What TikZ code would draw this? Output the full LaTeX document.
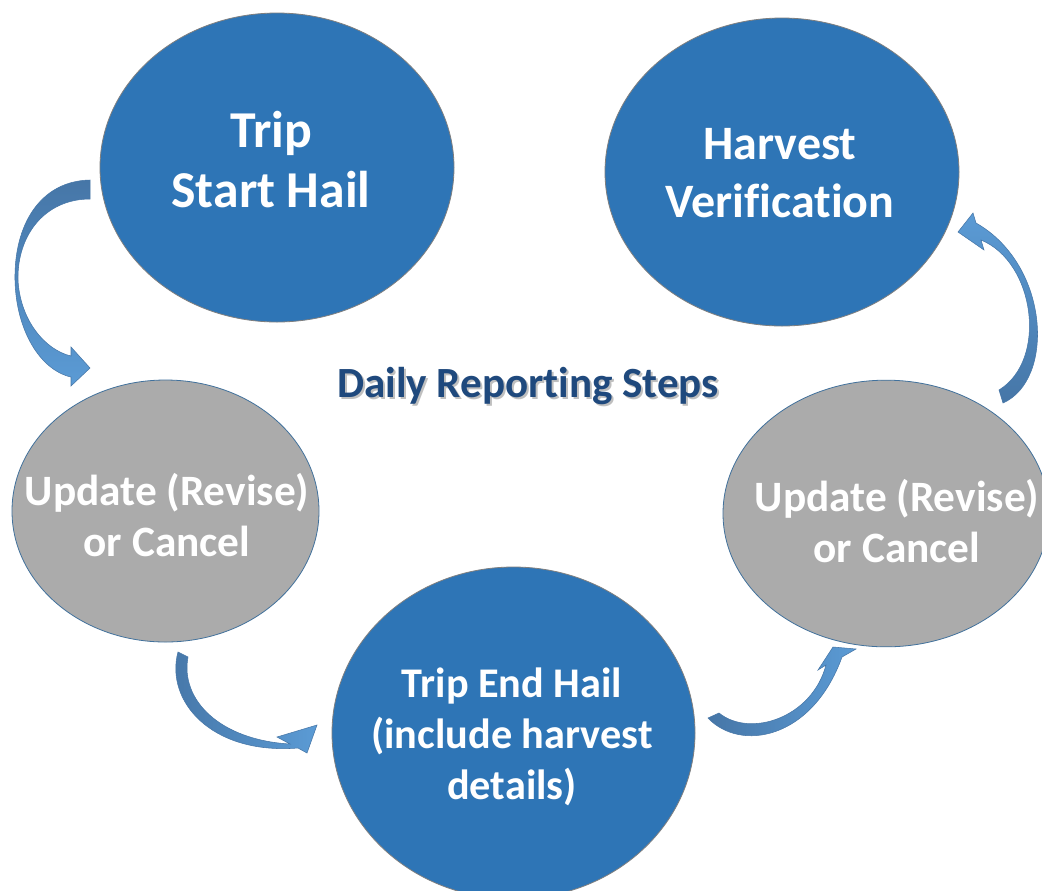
\documentclass[tikz,border=0pt]{standalone}
\usepackage{fontspec}
\setmainfont{Carlito}[Ligatures=NoCommon]
\usetikzlibrary{shapes.geometric}
\definecolor{nodeblue}{HTML}{2E75B6}
\definecolor{nodegray}{HTML}{ABABAB}
\definecolor{grayedge}{HTML}{41719C}
\definecolor{blueedge}{HTML}{7F7F7F}
\definecolor{arrdark}{HTML}{4676A7}
\definecolor{arrlight}{HTML}{5B9BD5}
\definecolor{titleblue}{HTML}{1F497D}
\begin{document}
\begin{tikzpicture}[x=0.75pt,y=-0.75pt,
  blueell/.style={ellipse, fill=nodeblue, draw=blueedge, line width=0.6pt, inner sep=0pt},
  grayell/.style={ellipse, fill=nodegray, draw=grayedge, line width=0.6pt, inner sep=0pt},
  lbl/.style={text=white, align=center, inner sep=0pt},
  arr/.style={draw=arrdark, line width=0.4pt},
]
\useasboundingbox (0,0) rectangle (1042,890);
\fill[white] (0,0) rectangle (1042,890);
\clip (0,0) rectangle (1042,890);

% ellipses
\node[blueell, minimum width=265.5pt, minimum height=231.75pt] (start) at (277,167.5) {};
\node[blueell, minimum width=265.5pt, minimum height=231pt] (harv) at (782,172) {};
\node[grayell, minimum width=230.25pt, minimum height=196.5pt] (upd1) at (165.5,511) {};
\node[grayell, minimum width=244.5pt, minimum height=200pt] (upd2) at (886,513.5) {};
\node[blueell, minimum width=272.25pt, minimum height=249pt] (tend) at (513.5,733) {};

% texts
\node[lbl, font=\bfseries\fontsize{38.8}{45}\selectfont] (starttxt) at (271,160) {Trip\\Start Hail};
\node[lbl, font=\bfseries\fontsize{36}{43.5}\selectfont] (harvtxt) at (780,173) {Harvest\\Verification};
\node[lbl, font=\bfseries\fontsize{32.5}{38.25}\selectfont] (upd1txt) at (167,515) {Update (Revise)\\or Cancel};
\node[lbl, font=\bfseries\fontsize{32.5}{38.25}\selectfont] (upd2txt) at (897,521) {Update (Revise)\\or Cancel};
\node[lbl, font=\bfseries\fontsize{31.7}{38.25}\selectfont] (tendtxt) at (512,737) {Trip End Hail\\(include harvest\\details)};

% title with shadow
\node[anchor=base, inner sep=0pt, text=black!45, opacity=0.55, font=\bfseries\fontsize{32.3}{38}\selectfont] (titleshadow) at (530,399.5) {Daily Reporting Steps};
\node[anchor=base, inner sep=0pt, text=titleblue, font=\bfseries\fontsize{32.3}{38}\selectfont] (title) at (528,397) {Daily Reporting Steps};

% curved arrows
\path[arr, top color=arrdark, bottom color=arrlight]
  (90,180) .. controls (40,181) and (14,225) .. (15,280)
  .. controls (16,330) and (40,370) .. (71,377)
  -- (71,386) -- (90,368) -- (71,347) -- (71,356)
  .. controls (45,350) and (20,320) .. (18,280)
  .. controls (17,235) and (45,199) .. (90,199) -- cycle;

\path[arr, left color=arrdark, right color=arrlight]
  (178,652) .. controls (165,700) and (210,755) .. (298,748)
  -- (307,753) -- (317,725) -- (277,737) -- (290,744)
  .. controls (220,740) and (180,700) .. (188,657) -- cycle;

\path[arr, left color=arrdark, right color=arrlight]
  (708,718) .. controls (740,752) and (812,740) .. (842,657)
  -- (856,649) -- (833,647) -- (818,670) -- (826,665)
  .. controls (812,718) and (750,738) .. (719,713) -- cycle;

\path[arr, bottom color=arrdark, top color=arrlight]
  (1003,403) .. controls (1055,380) and (1050,265) .. (976,223)
  -- (973,213) -- (958,232) -- (984,250) -- (981,240)
  .. controls (1035,262) and (1048,360) .. (999,390) -- cycle;
\end{tikzpicture}
\end{document}
